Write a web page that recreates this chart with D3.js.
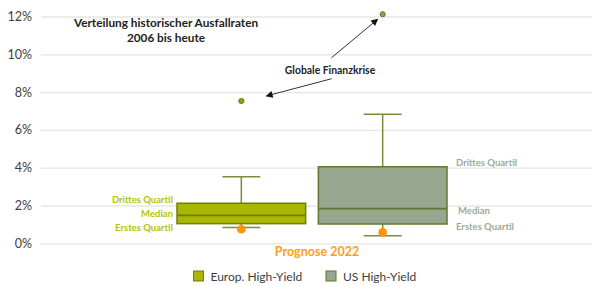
<!DOCTYPE html>
<html>
<head>
<meta charset="utf-8">
<script src="https://cdn.jsdelivr.net/npm/d3@7"></script>
<style>
  body { margin: 0; background: #fff; }
  svg { font-family: Lato, "Open Sans", sans-serif; }
</style>
</head>
<body>
<div id="container"></div>
<script>
// Ausfallraten 2006 bis heute, Werte in %
let categories = ["Europ. High-Yield", "US High-Yield"];
let whiskerLow = [0.83, 0.40];
let q1 = [1.04, 1.02];
let median = [1.48, 1.83];
let q3 = [2.12, 4.05];
let whiskerHigh = [3.52, 6.83];
let outliers = [7.53, 12.12];
let prognose = [0.74, 0.58];
let yTicks = [0, 2, 4, 6, 8, 10, 12];

let fills = ["#a9b700", "#97a68f"];
let strokes = ["#6f7d14", "#61792e"];
let labelColors = ["#b5c400", "#9dab96"];

let svgWidth = 600, svgHeight = 286;

let viz = d3.select("#container")
  .append("svg")
    .attr("width", svgWidth)
    .attr("height", svgHeight);

let x = d3.scaleBand()
  .domain(categories)
  .range([177, 447])
  .paddingInner(0.09)
  .paddingOuter(0);

let y = d3.scaleLinear()
  .domain([0, 12])
  .range([243.3, 16.5]);

// gridlines + tick labels
let yAxis = d3.axisLeft(y)
  .tickValues(yTicks)
  .tickSize(-551)
  .tickPadding(9)
  .tickFormat(d => d + "%");

let axisG = viz.append("g")
  .attr("transform", "translate(41,0)")
  .call(yAxis);
axisG.select(".domain").remove();
axisG.selectAll(".tick line").attr("stroke", "#e6e6e0").attr("stroke-width", 1.3);
axisG.selectAll(".tick text")
  .attr("fill", "#404040")
  .attr("font-size", 12.5)
  .attr("font-family", "Lato, sans-serif");

let rows = categories.map((c, i) => ({
  cat: c, i: i,
  lo: whiskerLow[i], q1: q1[i], med: median[i], q3: q3[i], hi: whiskerHigh[i],
  out: outliers[i], prog: prognose[i]
}));

let boxes = viz.selectAll("g.box").data(rows).enter().append("g").attr("class", "box");

let cx = d => x(d.cat) + x.bandwidth() / 2;
let capW = 38;

// whiskers
boxes.append("line")
  .attr("x1", cx).attr("x2", cx)
  .attr("y1", d => y(d.hi)).attr("y2", d => y(d.q3))
  .attr("stroke", "#7b8c3c").attr("stroke-width", 1.5);
boxes.append("line")
  .attr("x1", cx).attr("x2", cx)
  .attr("y1", d => y(d.lo)).attr("y2", d => y(d.q1))
  .attr("stroke", "#7b8c3c").attr("stroke-width", 1.5);
boxes.append("line")
  .attr("x1", d => cx(d) - capW / 2).attr("x2", d => cx(d) + capW / 2)
  .attr("y1", d => y(d.hi)).attr("y2", d => y(d.hi))
  .attr("stroke", "#7b8c3c").attr("stroke-width", 1.5);
boxes.append("line")
  .attr("x1", d => cx(d) - capW / 2).attr("x2", d => cx(d) + capW / 2)
  .attr("y1", d => y(d.lo)).attr("y2", d => y(d.lo))
  .attr("stroke", "#7b8c3c").attr("stroke-width", 1.5);

// box
boxes.append("rect")
  .attr("x", d => x(d.cat))
  .attr("width", x.bandwidth())
  .attr("y", d => y(d.q3))
  .attr("height", d => y(d.q1) - y(d.q3))
  .attr("fill", d => fills[d.i])
  .attr("stroke", d => strokes[d.i])
  .attr("stroke-width", 1.5);
boxes.append("line")
  .attr("x1", d => x(d.cat)).attr("x2", d => x(d.cat) + x.bandwidth())
  .attr("y1", d => y(d.med)).attr("y2", d => y(d.med))
  .attr("stroke", d => strokes[d.i]).attr("stroke-width", 1.8);

// outliers
boxes.append("circle")
  .attr("cx", cx).attr("cy", d => y(d.out))
  .attr("r", 2.6)
  .attr("fill", d => d.i == 0 ? "#93a600" : "#8a9a6a")
  .attr("stroke", "#6a7d1a").attr("stroke-width", 1);

// forecast 2022
boxes.append("circle")
  .attr("cx", cx).attr("cy", d => y(d.prog))
  .attr("r", 4.3)
  .attr("fill", "#ff9400");

viz.append("text")
  .attr("x", (cx(rows[0]) + cx(rows[1])) / 2 + 5)
  .attr("y", 255.5)
  .attr("text-anchor", "middle")
  .attr("font-size", 12.5).attr("font-weight", "bold")
  .attr("fill", "#ff9e1b")
  .text("Prognose 2022");

// quartile labels
let labelNames = ["Drittes Quartil", "Median", "Erstes Quartil"];
let eu = rows[0], us = rows[1];
let euY = [y(eu.q3) - 0.5, y(eu.med) + 1.5, y(eu.q1) + 7.5];
viz.selectAll("text.eul").data(labelNames).enter().append("text")
  .attr("class", "eul")
  .attr("x", x(eu.cat) - 4)
  .attr("y", (d, k) => euY[k])
  .attr("text-anchor", "end")
  .attr("font-size", 9.5).attr("font-weight", "bold")
  .attr("fill", labelColors[0])
  .text(d => d);

let usY = [y(us.q3) - 0.5, y(us.med) + 5, y(us.q1) + 6];
viz.selectAll("text.usl").data(labelNames).enter().append("text")
  .attr("class", "usl")
  .attr("x", (d, k) => x(us.cat) + x.bandwidth() + (k == 1 ? 11 : 9))
  .attr("y", (d, k) => usY[k])
  .attr("font-size", 9.5).attr("font-weight", "bold")
  .attr("fill", labelColors[1])
  .text(d => d);

// title
let title = viz.append("text")
  .attr("x", 166)
  .attr("text-anchor", "middle")
  .attr("font-size", 11.8).attr("font-weight", "bold")
  .attr("fill", "#222");
title.append("tspan").attr("x", 166).attr("y", 27).text("Verteilung historischer Ausfallraten");
title.append("tspan").attr("x", 166).attr("y", 42).text("2006 bis heute");

// annotation
viz.append("defs").append("marker")
  .attr("id", "arrow")
  .attr("viewBox", "0 0 10 10")
  .attr("refX", 9).attr("refY", 5)
  .attr("markerWidth", 9).attr("markerHeight", 7)
  .attr("markerUnits", "userSpaceOnUse")
  .attr("orient", "auto")
  .append("path").attr("d", "M0,0 L10,5 L0,10 z").attr("fill", "#111");

let noteX = 330, noteY = y(9.13);
viz.append("text")
  .attr("x", noteX).attr("y", noteY + 3.5)
  .attr("text-anchor", "middle")
  .attr("font-size", 10.4).attr("font-weight", "bold")
  .attr("fill", "#222")
  .text("Globale Finanzkrise");

let arrows = [
  {x1: noteX + 1.5, y1: noteY - 13, x2: cx(us) - 5, y2: y(us.out) + 5},
  {x1: noteX + 1.5, y1: noteY + 8, x2: cx(eu) + 25, y2: y(eu.out) - 5}
];
viz.selectAll("line.arr").data(arrows).enter().append("line")
  .attr("class", "arr")
  .attr("x1", d => d.x1).attr("y1", d => d.y1)
  .attr("x2", d => d.x2).attr("y2", d => d.y2)
  .attr("stroke", "#333").attr("stroke-width", 1)
  .attr("marker-end", "url(#arrow)");

// legend
let legendX = [193.5, 326];
let legend = viz.selectAll("g.leg").data(categories).enter().append("g")
  .attr("class", "leg")
  .attr("transform", (d, i) => `translate(${legendX[i]},271)`);
legend.append("rect")
  .attr("width", 10).attr("height", 10)
  .attr("fill", (d, i) => fills[i])
  .attr("stroke", (d, i) => strokes[i]).attr("stroke-width", 1);
legend.append("text")
  .attr("x", 17).attr("y", 9.5)
  .attr("font-size", 12)
  .attr("fill", "#404040")
  .text(d => d);
</script>
</body>
</html>
